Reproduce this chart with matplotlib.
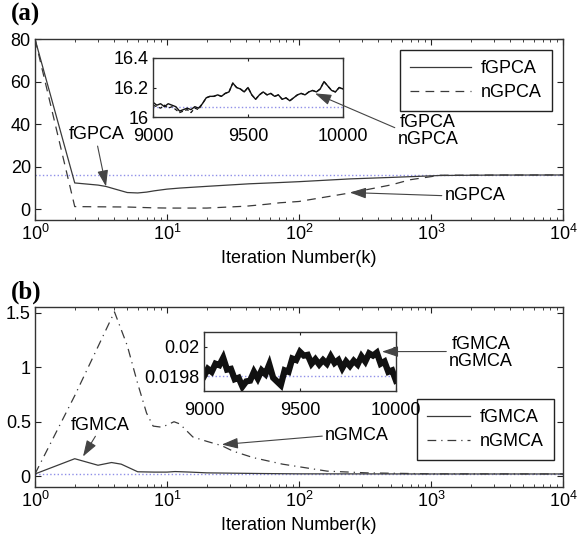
import numpy as np
import matplotlib
matplotlib.use('Agg')
import matplotlib.pyplot as plt

plt.rcParams['font.family'] = ['Liberation Sans', 'DejaVu Sans']
plt.rcParams['font.size'] = 13
plt.rcParams['mathtext.fontset'] = 'custom'
plt.rcParams['mathtext.rm'] = 'Liberation Sans'

# ── (a) GPCA: iteration vs error ─────────────────────────────────────
gpca_k = [1, 2, 3, 3.45, 4, 5, 6, 7, 8, 10, 12.5, 20, 42, 72, 100, 243,
          500, 1170, 3000, 10000]
fgpca = [80, 12.4, 11.4, 10.75, 9.6, 7.9, 7.7, 8.1, 8.7, 9.5, 10.0, 10.8,
         12.0, 12.6, 13.0, 14.3, 15.0, 15.9, 16.1, 16.15]
ngpca_k = [1, 2, 3, 5, 8, 10.5, 20, 40, 57, 72, 100, 243, 500, 695, 1170,
           3000, 10000]
ngpca = [80, 1.3, 1.2, 1.1, 0.7, 0.6, 0.6, 1.5, 2.4, 3.1, 3.7, 7.7, 11.5,
         13.9, 16.0, 16.1, 16.15]
gpca_opt = 16.07

tail_k = list(range(9000, 10001, 20))
fgpca_tail = [16.10, 16.08, 16.09, 16.07, 16.09, 16.08, 16.07, 16.04, 16.05,
              16.06, 16.05, 16.07, 16.06, 16.09, 16.13, 16.14, 16.14, 16.15,
              16.14, 16.16, 16.17, 16.23, 16.20, 16.19, 16.17, 16.20, 16.15,
              16.12, 16.15, 16.17, 16.15, 16.16, 16.14, 16.15, 16.12, 16.13,
              16.11, 16.13, 16.15, 16.16, 16.15, 16.17, 16.18, 16.17, 16.19,
              16.24, 16.21, 16.18, 16.17, 16.20, 16.19]
ngpca_tail = [16.08, 16.07, 16.06, 16.08, 16.06, 16.07, 16.05, 16.03, 16.04,
              16.05, 16.03, 16.06, 16.05, 16.09, 16.13, 16.14, 16.14, 16.15,
              16.14, 16.16, 16.17, 16.23, 16.20, 16.19, 16.17, 16.20, 16.15,
              16.12, 16.15, 16.17, 16.15, 16.16, 16.14, 16.15, 16.12, 16.13,
              16.11, 16.13, 16.15, 16.16, 16.15, 16.17, 16.18, 16.17, 16.19,
              16.24, 16.21, 16.18, 16.17, 16.20, 16.19]

# ── (b) GMCA ─────────────────────────────────────────────────────────
gmca_k = [1, 2, 3, 3.8, 4.5, 6, 8, 10, 11.5, 15, 20, 50, 100, 1000, 10000]
fgmca = [0.02, 0.16, 0.10, 0.125, 0.11, 0.04, 0.037, 0.037, 0.042, 0.037,
          0.03, 0.024, 0.021, 0.02, 0.02]
ngmca_k = [1, 2, 3, 4, 5, 6, 7, 7.85, 9.1, 10, 11.3, 12.5, 15.7, 20, 26,
           31.6, 45, 75, 163, 326, 1000, 10000]
ngmca = [0.02, 0.74, 1.19, 1.51, 1.2, 0.85, 0.58, 0.46, 0.45, 0.47, 0.50,
         0.48, 0.36, 0.32, 0.28, 0.23, 0.17, 0.11, 0.046, 0.03, 0.021, 0.02]
gmca_opt = 0.0198

gmca_tail = [0.019800, 0.019850, 0.019830, 0.019885, 0.019875, 0.019925,
             0.019845, 0.019850, 0.019780, 0.019790, 0.019730, 0.019765,
             0.019770, 0.019830, 0.019785, 0.019840, 0.019815, 0.019880,
             0.019790, 0.019765, 0.019740, 0.019840, 0.019830, 0.019920,
             0.019910, 0.019965, 0.019940, 0.019945, 0.019885, 0.019915,
             0.019880, 0.019910, 0.019885, 0.019935, 0.019890, 0.019910,
             0.019855, 0.019900, 0.019870, 0.019905, 0.019880, 0.019935,
             0.019900, 0.019955, 0.019940, 0.019960, 0.019885, 0.019900,
             0.019830, 0.019840, 0.019770]

LINE = '#3a3a3a'
DOT = '#8f8fe8'
W, H = 581, 546


def px_axes(x0, y0, x1, y1):
    return fig.add_axes([x0 / W, 1 - y1 / H, (x1 - x0) / W, (y1 - y0) / H])


def style(ax):
    ax.tick_params(which='both', direction='in', top=True, right=True,
                   colors='#222222', labelcolor='black', pad=3)
    ax.tick_params(which='major', length=4)
    ax.tick_params(which='minor', length=2)
    for s in ax.spines.values():
        s.set_color('#333333')
        s.set_linewidth(1.0)


arrow = dict(arrowstyle='-|>,head_length=0.9,head_width=0.3', color='#444444',
             lw=0.8, shrinkA=0, shrinkB=0, mutation_scale=11)
leg_kw = dict(borderaxespad=0, fancybox=False, edgecolor='#222222',
              framealpha=1, borderpad=0.55, labelspacing=0.4,
              handletextpad=0.55)

fig = plt.figure(figsize=(5.81, 5.46), dpi=100)
ax1 = px_axes(35, 39, 563, 220)
ax2 = px_axes(35, 307, 563, 487)
ins1 = px_axes(153, 58, 343, 117)
ins2 = px_axes(204, 332, 396, 391)

# (a)
ax1.axhline(gpca_opt, color=DOT, ls=':', lw=1.0)
ax1.semilogx(gpca_k, fgpca, '-', color=LINE, lw=0.9, label='fGPCA')
ax1.semilogx(ngpca_k, ngpca, '--', color=LINE, lw=0.9, dashes=(7, 5),
             label='nGPCA')
ax1.set_xlim(1, 1e4)
ax1.set_ylim(-5, 80)
ax1.set_yticks([0, 20, 40, 60, 80])
ax1.set_xlabel('Iteration Number(k)', labelpad=4)
style(ax1)
ax1.legend(loc='upper right', bbox_to_anchor=(0.979, 0.939),
           handlelength=3.4, **leg_kw)
ax1.legend_.get_frame().set_linewidth(1.0)

ins1.axhline(gpca_opt, color=DOT, ls=':', lw=1.0)
ins1.plot(tail_k, ngpca_tail, '--', color='#111111', lw=0.9, dashes=(3, 2))
ins1.plot(tail_k, fgpca_tail, '-', color='#111111', lw=1.0)
ins1.set_xlim(9000, 10000)
ins1.set_ylim(16, 16.4)
ins1.set_xticks([9000, 9500, 10000])
ins1.set_yticks([16, 16.2, 16.4])
ins1.set_yticklabels(['16', '16.2', '16.4'])
style(ins1)
ins1.tick_params(length=2)
ins1.tick_params(axis='x', pad=8)

ax1.annotate('fGPCA', xy=(3.45, 10.75), xytext=(2.95, 35), ha='center',
             va='center', arrowprops=dict(arrow, relpos=(0.5, 0.0)))
ins1.annotate('fGPCA\nnGPCA', xy=(9853, 16.16), xytext=(949, 37),
              textcoords=ax1.transData, ha='center', va='center',
              linespacing=1.0, annotation_clip=False,
              arrowprops=dict(arrow, relpos=(0.0, 0.55)))
ax1.annotate('nGPCA', xy=(243, 7.9), xytext=(2154, 6.4), ha='center',
             va='center', arrowprops=dict(arrow, relpos=(0.0, 0.5)))

# (b)
ax2.axhline(0.02, color=DOT, ls=':', lw=1.0)
ax2.semilogx(gmca_k, fgmca, '-', color=LINE, lw=0.9, label='fGMCA')
ax2.semilogx(ngmca_k, ngmca, '-.', color=LINE, lw=0.9,
             dashes=(7, 4, 1, 4), label='nGMCA')
ax2.set_xlim(1, 1e4)
ax2.set_ylim(-0.1, 1.555)
ax2.set_yticks([0, 0.5, 1, 1.5])
ax2.set_yticklabels(['0', '0.5', '1', '1.5'])
ax2.set_xlabel('Iteration Number(k)', labelpad=4)
style(ax2)
ax2.legend(loc='lower right', bbox_to_anchor=(0.983, 0.15),
           handlelength=2.4, **leg_kw)
ax2.legend_.get_frame().set_linewidth(1.0)

ins2.axhline(gmca_opt, color=DOT, ls=':', lw=1.0)
ins2.plot(tail_k, gmca_tail, '-', color='#111111', lw=4.5,
          solid_joinstyle='miter')
ins2.plot(tail_k, gmca_tail, '-.', color='#111111', lw=1.0)
ins2.set_xlim(9000, 10000)
ins2.set_ylim(0.0197, 0.0201)
ins2.set_xticks([9000, 9500, 10000])
ins2.set_yticks([0.0198, 0.02])
ins2.set_yticklabels(['0.0198', '0.02'])
style(ins2)
ins2.tick_params(length=2)
ins2.tick_params(axis='x', pad=8)

ax2.annotate('fGMCA', xy=(2.31, 0.18), xytext=(3.11, 0.47), ha='center',
             va='center', arrowprops=dict(arrow, relpos=(0.45, 0.0)))
ax2.annotate('nGMCA', xy=(26, 0.29), xytext=(275, 0.37), ha='center',
             va='center', arrowprops=dict(arrow, relpos=(0.0, 0.5)))
ins2.annotate('fGMCA\nnGMCA', xy=(9927, 0.019967), xytext=(2392, 1.13),
              textcoords=ax2.transData, ha='center', va='center',
              linespacing=1.0, annotation_clip=False,
              arrowprops=dict(arrow, relpos=(0.0, 0.55)))

fig.text(11 / W, 1 - 14 / H, '(a)', family='Liberation Serif',
         weight='bold', size=18, va='center')
fig.text(11 / W, 1 - 292 / H, '(b)', family='Liberation Serif',
         weight='bold', size=18, va='center')

fig.savefig('out.png', dpi=100)
